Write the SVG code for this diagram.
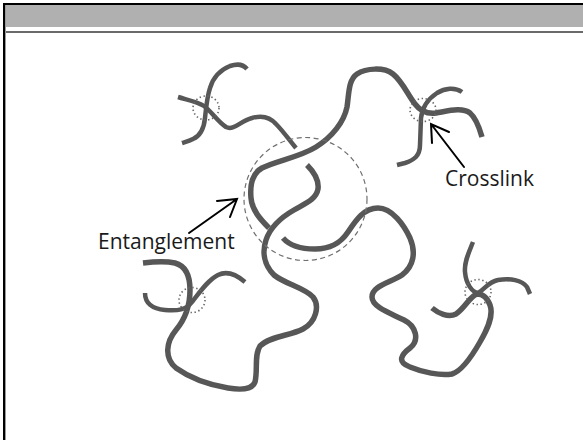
<svg xmlns="http://www.w3.org/2000/svg" width="583" height="440" viewBox="0 0 583 440">
  <style>
    .chain { fill: none; stroke: #575757; stroke-width: 5.5; stroke-linecap: butt; stroke-linejoin: round; }
    .arm { fill: none; stroke: #575757; stroke-width: 4.5; stroke-linecap: butt; stroke-linejoin: round; }
    .xlink { fill: none; stroke: #666; stroke-width: 1.6; stroke-dasharray: 1.4 2.6; }
    .tangle { fill: none; stroke: #707070; stroke-width: 1.2; stroke-dasharray: 5 3.5; }
    .pointer { fill: none; stroke: #000; stroke-width: 2; stroke-linecap: round; stroke-linejoin: miter; }
    .label { font-family: "Open Sans", "Noto Sans", sans-serif; font-size: 21px; fill: #1a1a1a; }
  </style>

  <!-- frame and header band -->
  <g id="frame">
    <rect x="0" y="0" width="583" height="440" fill="#fff"/>
    <rect x="5" y="5" width="578" height="22" fill="#b0b0b0"/>
    <rect x="5" y="31" width="578" height="2" fill="#6a6a6a"/>
    <rect x="3" y="3" width="580" height="2" fill="#000"/>
    <rect x="3" y="3" width="2" height="437" fill="#000"/>
    <rect x="5" y="5" width="1" height="435" fill="#9a9a9a"/>
  </g>

  <g id="connectors">
    <!-- chain A: top-left crosslink, under chain B, down through the knot into the lower-left loop -->
    <path class="arm" d="M178,97 C188,100 198,102 204,106 C212,112 218,122 226,127 C234,131 240,121 252,118 C262,115 270,117 276,124 C283,131 290,141 296,148"/>
    <path class="chain" d="M307,165 C314,172 319,181 318,189 C316,200 304,204 294,210 C280,218 270,228 266,240 C262,252 264,265 274,275 C285,284 305,288 313,297 C320,306 316,322 303,329 C290,336 270,336 260,346 C254,355 258,370 255,382 C252,390 240,390 228,388 C210,385 190,378 176,368 C164,358 166,342 176,330 C186,318 190,305 190,290 C190,276 186,266 175,263 C165,261 152,262 143,263"/>

    <!-- chain B: top-right crosslink, over the top, into the knot and on to the lower-right loop -->
    <path class="chain" d="M269,228 C260,219 252,210 251,198 C250,187 251,174 262,168 C276,161 300,157 316,147 C332,137 344,122 347,107 C349,95 348,80 357,74 C366,68 384,67 393,74 C402,81 408,95 415,104 C421,112 428,114 436,113 C448,111 462,107 470,113 C477,119 480,130 482,137"/>
    <path class="chain" d="M283,238 C290,246 300,249 315,249 C330,249 340,244 348,232 C356,220 364,208 378,208 C392,208 404,225 410,238 C416,252 414,266 402,275 C390,283 372,286 372,297 C372,307 390,313 404,320 C416,326 420,340 410,348 C402,354 396,362 410,367 C422,372 440,376 452,374 C462,371 472,356 480,342 C487,330 494,316 490,305 C487,297 482,294 477,294 C470,296 465,308 456,314 C448,318 438,313 432,308"/>

    <!-- short strands tied in at the crosslinks -->
    <path class="arm" d="M247,69 C243,64 236,64 230,66 C220,70 213,78 210,88 C207,97 206,108 205,118 C204,128 200,136 193,139 C189,141 185,142 182,143"/>
    <path class="arm" d="M462,92 C455,87 445,88 437,93 C428,99 422,108 421,118 L420,145 C420,156 414,160 405,163 L397,165"/>
    <path class="arm" d="M145,293 C145,303 152,309 165,310 C178,311 186,310 192,302 C200,292 208,280 218,275 C228,270 238,276 245,282"/>
    <path class="arm" d="M473,242 C469,252 464,262 465,272 C466,284 472,292 478,293 C484,290 488,282 498,280 C510,278 522,280 527,287 L530,294"/>
  </g>

  <!-- crosslink markers -->
  <g id="crosslink-tl"><ellipse class="xlink" cx="206" cy="108" rx="13" ry="12"/></g>
  <g id="crosslink-tr"><ellipse class="xlink" cx="423" cy="110" rx="13" ry="11.5"/></g>
  <g id="crosslink-bl"><ellipse class="xlink" cx="192" cy="300" rx="13" ry="12.5"/></g>
  <g id="crosslink-br"><ellipse class="xlink" cx="478" cy="292" rx="13" ry="12.5"/></g>

  <!-- entanglement region -->
  <g id="entanglement-region"><circle class="tangle" cx="305.5" cy="199" r="61.5"/></g>

  <g id="label-crosslink">
    <path class="pointer" d="M464,167 L431,124 M449,132 L431,124 L432,143"/>
    <text class="label" x="445" y="186">Crosslink</text>
  </g>
  <g id="label-entanglement">
    <path class="pointer" d="M189,233 L237,199 M217,201 L237,199 L230,217"/>
    <text class="label" x="98" y="249">Entanglement</text>
  </g>
</svg>
